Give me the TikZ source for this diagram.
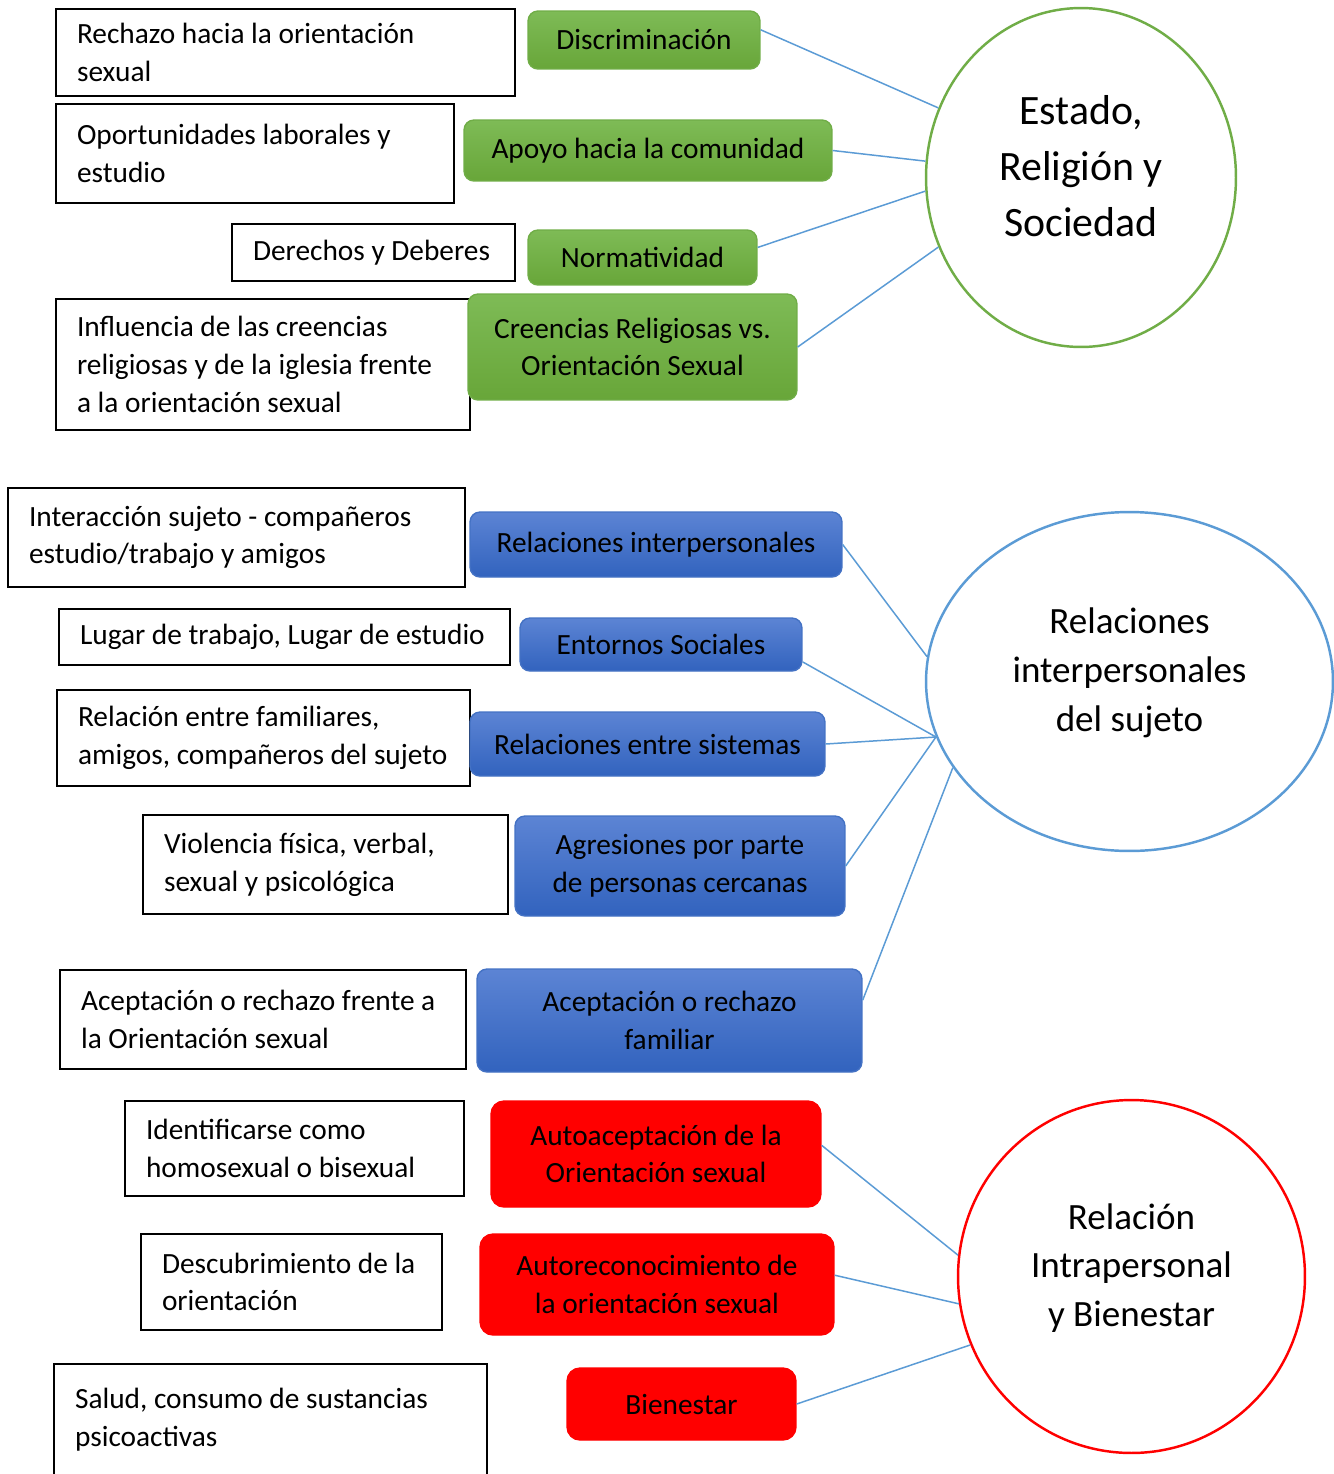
\documentclass[tikz,border=0pt]{standalone}
\usepackage{fontspec}
\setmainfont{Carlito}
\usetikzlibrary{shapes.geometric}
\definecolor{grtop}{RGB}{126,187,86}
\definecolor{grbot}{RGB}{104,166,57}
\definecolor{grline}{RGB}{112,173,71}
\definecolor{bltop}{RGB}{92,132,212}
\definecolor{blbot}{RGB}{50,99,190}
\definecolor{blline}{RGB}{68,114,196}
\definecolor{rdfill}{RGB}{255,0,0}
\definecolor{linkblue}{RGB}{91,155,213}
\tikzset{
%Define style for the plain text boxes
plain box/.style={draw=black, line width=1pt, fill=white, inner xsep=0.42cm,
 align=flush left, font=\fontsize{16.7}{21.5}\selectfont},
%Define style for the coloured boxes
topic box/.style={rounded corners=0.2cm, align=flush center, inner sep=0pt,
 line width=0.8pt, font=\fontsize{16.7}{21.5}\selectfont},
green box/.style={topic box, draw=grline, top color=grtop, bottom color=grbot},
blue box/.style={topic box, draw=blline, top color=bltop, bottom color=blbot},
red box/.style={topic box, draw=rdfill, fill=rdfill, rounded corners=0.26cm},
%Define style for the big circles and their titles
theme/.style={ellipse, line width=1.4pt, fill=white, inner sep=0pt},
theme text/.style={align=flush center, inner sep=0pt},
link/.style={draw=linkblue, line width=0.85pt},
}

\begin{document}
\begin{tikzpicture}[x=0.02cm, y=-0.02cm]
\useasboundingbox (0,0) rectangle (1333,1474);

% Estado, Religion y Sociedad
\node[plain box, text width=8.34cm, minimum height=1.74cm] (rechazo) at (285.5,52.5)
 {Rechazo hacia la orientación\\sexual};
\node[plain box, text width=7.12cm, minimum height=1.98cm] (oportun) at (255,153.5)
 {Oportunidades laborales y\\estudio};
\node[plain box, text width=4.82cm, minimum height=1.14cm] (derechos) at (373.5,252.5)
 {Derechos y Deberes};
\node[plain box, text width=7.44cm, minimum height=2.62cm] (influencia) at (263,364.5)
 {Influencia de las creencias\\religiosas y de la iglesia frente\\a la orientación sexual};

\node[green box, minimum width=4.64cm, minimum height=1.16cm] (discrim) at (644,40)
 {Discriminación};
\node[green box, minimum width=7.36cm, minimum height=1.22cm] (apoyo) at (648,150.5)
 {Apoyo hacia la comunidad};
\node[green box, minimum width=4.58cm, minimum height=1.10cm] (normat) at (642.5,257.5)
 {Normatividad};
\node[green box, minimum width=6.58cm, minimum height=2.12cm] (creencias) at (632.5,347)
 {Creencias Religiosas vs.\\Orientación Sexual};

\node[theme, draw=grline, minimum width=6.2cm, minimum height=6.78cm,
 label={[theme text, font=\fontsize{23.8}{31.75}\selectfont, yshift=0.23cm]center:Estado,\\Religión y\\Sociedad}]
 (estado) at (1081,177.5) {};

\draw[link] (discrim.5) -- (estado.154);
\draw[link] (apoyo.east) -- (estado.174);
\draw[link] (normat.5) -- (estado.185);
\draw[link] (creencias.east) -- (estado.206);

% Relaciones interpersonales del sujeto
\node[plain box, text width=8.30cm, minimum height=1.98cm] (interac) at (236.5,537.5)
 {Interacción sujeto - compañeros\\estudio/trabajo y amigos};
\node[plain box, text width=8.18cm, minimum height=1.12cm] (lugar) at (284.5,637)
 {Lugar de trabajo, Lugar de estudio};
\node[plain box, text width=7.42cm, minimum height=1.92cm] (familia) at (263.5,738)
 {Relación entre familiares,\\amigos, compañeros del sujeto};
\node[plain box, text width=6.46cm, minimum height=1.98cm] (violencia) at (325.5,864.5)
 {Violencia física, verbal,\\sexual y psicológica};
\node[plain box, text width=7.28cm, minimum height=1.98cm] (frente) at (263,1019.5)
 {Aceptación o rechazo frente a\\la Orientación sexual};

\node[blue box, minimum width=7.44cm, minimum height=1.30cm] (relinter) at (656,544.5)
 {Relaciones interpersonales};
\node[blue box, minimum width=5.64cm, minimum height=1.06cm] (entornos) at (661,644.5)
 {Entornos Sociales};
\node[blue box, minimum width=7.10cm, minimum height=1.28cm] (sistemas) at (647.5,744)
 {Relaciones entre sistemas};
\node[blue box, minimum width=6.60cm, minimum height=2.00cm] (agresion) at (680,866)
 {Agresiones por parte\\de personas cercanas};
\node[blue box, minimum width=7.70cm, minimum height=2.06cm] (acepfam) at (669.5,1020.5)
 {Aceptación o rechazo\\familiar};

\node[theme, draw=linkblue, minimum width=8.14cm, minimum height=6.78cm,
 label={[theme text, font=\fontsize{21.1}{27.8}\selectfont, yshift=0.18cm]center:Relaciones\\interpersonales\\del sujeto}]
 (sujeto) at (1129.5,681.5) {};

\draw[link] (relinter.east) -- (sujeto.173);
\draw[link] (entornos.-7) -- (sujeto.196);
\draw[link] (sistemas.east) -- (sujeto.196);
\draw[link] (agresion.east) -- (sujeto.196);
\draw[link] (acepfam.6) -- (sujeto.206);

% Relacion Intrapersonal y Bienestar
\node[plain box, text width=5.94cm, minimum height=1.90cm] (identif) at (294.5,1148.5)
 {Identificarse como\\homosexual o bisexual};
\node[plain box, text width=5.18cm, minimum height=1.92cm] (descub) at (291.5,1282)
 {Descubrimiento de la\\orientación};
\node[plain box, text width=7.82cm, minimum height=2.24cm] (salud) at (270.5,1420)
 {Salud, consumo de sustancias\\psicoactivas};

\node[red box, minimum width=6.60cm, minimum height=2.12cm] (autoacep) at (656,1154)
 {Autoaceptación de la\\Orientación sexual};
\node[red box, minimum width=7.08cm, minimum height=2.02cm] (autorec) at (657,1284.5)
 {Autoreconocimiento de\\la orientación sexual};
\node[red box, minimum width=4.58cm, minimum height=1.44cm] (bienestar) at (681.5,1404)
 {Bienestar};

\node[theme, draw=rdfill, minimum width=6.94cm, minimum height=7.06cm,
 label={[theme text, font=\fontsize{21.1}{27.8}\selectfont, yshift=0.17cm]center:Relación\\Intrapersonal\\y Bienestar}]
 (intrap) at (1131.5,1276.5) {};

\draw[link] (autoacep.3) -- (intrap.173);
\draw[link] (autorec.3) -- (intrap.189);
\draw[link] (bienestar.east) -- (intrap.203);

\end{tikzpicture}
\end{document}
